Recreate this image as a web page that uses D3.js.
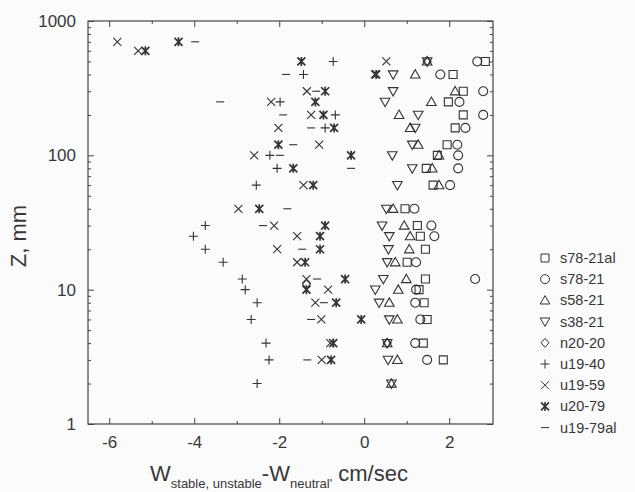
<!DOCTYPE html>
<html>
<head>
<meta charset="utf-8">
<script src="https://d3js.org/d3.v7.min.js"></script>
<style>
  body { margin: 0; background: #fbfbfb; }
  text { font-family: Arial, "Liberation Sans", sans-serif; fill: #383838; }
</style>
</head>
<body>
<div id="chart"></div>
<script>
// series names, in legend order
const seriesNames = ["s78-21al", "s78-21", "s58-21", "s38-21", "n20-20", "u19-40", "u19-59", "u20-79", "u19-79al"];

// [W difference cm/sec, Z mm]
const s78_21al = [[2.85,500],[2.09,400],[2.33,300],[1.98,250],[2.33,200],[2.14,160],[1.95,120],[1.72,100],[1.46,80],[1.62,60],[0.96,40],[1.25,30],[1.32,25],[1.44,20],[1.01,16],[1.44,12],[1.29,10],[1.41,8],[1.48,6],[1.39,4],[1.86,3]];
const s78_21 = [[2.66,500],[1.79,400],[2.8,300],[2.24,250],[2.8,200],[2.38,160],[2.19,120],[2.21,100],[2.21,80],[2.02,60],[1.18,40],[1.58,30],[1.65,25],[1.22,16],[2.61,12],[1.22,10],[1.2,8],[1.32,6],[1.2,4],[1.48,3]];
const s58_21 = [[1.48,500],[1.2,400],[2.14,300],[1.58,250],[0.82,200],[1.08,160],[1.27,120],[1.76,100],[1.6,80],[1.76,60],[0.68,40],[0.94,30],[1.08,25],[1.06,20],[0.73,16],[0.99,12],[0.8,10],[0.59,8],[0.78,6],[0.54,4],[0.78,3],[0.64,2]];
const s38_21 = [[1.48,500],[0.68,400],[0.68,300],[0.49,250],[1.27,200],[1.2,160],[1.13,120],[0.66,100],[1.13,80],[0.78,60],[0.52,40],[0.42,30],[0.59,25],[0.57,20],[0.54,16],[0.45,12],[0.26,10],[0.35,8],[0.59,6],[0.54,4],[0.56,3],[0.64,2]];
const n20_20 = [[1.48,500],[-1.36,11],[0.54,4]];
const u19_40 = [[-0.73,500],[-1.43,400],[-1.98,250],[-0.68,200],[-0.92,160],[-2.22,100],[-2.05,80],[-2.54,60],[-3.74,30],[-4.02,25],[-3.74,20],[-3.32,16],[-2.87,12],[-2.8,10],[-2.52,8],[-2.66,6],[-2.31,4],[-2.24,3],[-2.52,2]];
const u19_59 = [[-5.81,700],[-5.32,600],[0.52,500],[0.25,400],[-1.35,300],[-2.19,250],[-1.25,200],[-2.02,160],[-1.06,120],[-2.59,100],[-1.43,60],[-2.96,40],[-2.12,30],[-1.58,25],[-2.05,20],[-1.58,16],[-1.36,12],[-0.85,10],[-1.15,8],[-1.01,6],[-0.8,4],[-1.0,3]];
const u20_79 = [[-5.15,600],[-4.37,700],[-1.48,500],[0.28,400],[-0.92,300],[-1.15,250],[-0.96,200],[-0.71,160],[-2.02,120],[-0.31,100],[-1.67,80],[-1.2,60],[-2.47,40],[-0.92,30],[-1.04,25],[-1.04,20],[-1.39,16],[-0.45,12],[-1.36,10],[-0.66,8],[-0.07,6],[-0.73,4],[-0.78,3]];
const u19_79al = [[-3.98,700],[-1.84,400],[-1.13,300],[-3.39,250],[-1.91,200],[-1.25,160],[-1.67,120],[-1.98,100],[-0.31,80],[-1.81,40],[-2.38,30],[-1.46,20],[-1.11,12],[-0.95,8],[-1.25,6],[-1.34,3]];

const xTicks = [-6, -4, -2, 0, 2];
const xMinor = [-5, -3, -1, 1];
const yTicks = [1, 10, 100, 1000];

const shapes = ["square", "circle", "up", "down", "diamond", "plus", "cross", "star", "dash"];
const series = seriesNames.map((name, i) => ({
  name, shape: shapes[i],
  values: [s78_21al, s78_21, s58_21, s38_21, n20_20, u19_40, u19_59, u20_79, u19_79al][i]
}));

const W = 635, H = 492;
const plot = { left: 88, right: 493, top: 21, bottom: 424 };

const svg = d3.select("#chart").append("svg")
  .attr("width", W).attr("height", H);

const x = d3.scaleLinear().domain([-6.5, 3.03]).range([plot.left, plot.right]);
const y = d3.scaleLog().domain([1, 1000]).range([plot.bottom, plot.top]);

const axisColor = "#444";

// minor log ticks
const yMinor = [];
for (let d = 1; d < 1000; d *= 10) for (let k = 2; k <= 9; k++) yMinor.push(d * k);

function styleAxis(g) {
  g.select(".domain").remove();
  g.selectAll("line").attr("stroke", axisColor);
  g.selectAll("text").attr("fill", "#383838");
}

const plain = d => String(d);

// bottom axis
svg.append("g").attr("transform", `translate(0,${plot.bottom})`)
  .call(d3.axisBottom(x).tickValues(xTicks).tickSize(-6).tickPadding(12).tickFormat(plain))
  .call(styleAxis)
  .call(g => g.selectAll("text").style("font-size", "17px").style("font-family", "Arial"));
svg.append("g").attr("transform", `translate(0,${plot.bottom})`)
  .call(d3.axisBottom(x).tickValues(xMinor).tickSize(-3).tickFormat(""))
  .call(styleAxis);
// top axis
svg.append("g").attr("transform", `translate(0,${plot.top})`)
  .call(d3.axisTop(x).tickValues(xTicks).tickSize(-6).tickFormat(""))
  .call(styleAxis);
svg.append("g").attr("transform", `translate(0,${plot.top})`)
  .call(d3.axisTop(x).tickValues(xMinor).tickSize(-3).tickFormat(""))
  .call(styleAxis);
// left axis
svg.append("g").attr("transform", `translate(${plot.left},0)`)
  .call(d3.axisLeft(y).tickValues(yTicks).tickSize(-6).tickPadding(12).tickFormat(plain))
  .call(styleAxis)
  .call(g => g.selectAll("text").style("font-size", "17px").style("font-family", "Arial"));
svg.append("g").attr("transform", `translate(${plot.left},0)`)
  .call(d3.axisLeft(y).tickValues(yMinor).tickSize(-3).tickFormat(""))
  .call(styleAxis);
// right axis
svg.append("g").attr("transform", `translate(${plot.right},0)`)
  .call(d3.axisRight(y).tickValues(yTicks).tickSize(-6).tickFormat(""))
  .call(styleAxis);
svg.append("g").attr("transform", `translate(${plot.right},0)`)
  .call(d3.axisRight(y).tickValues(yMinor).tickSize(-3).tickFormat(""))
  .call(styleAxis);

// frame
svg.append("rect")
  .attr("x", plot.left).attr("y", plot.top)
  .attr("width", plot.right - plot.left).attr("height", plot.bottom - plot.top)
  .attr("fill", "none").attr("stroke", axisColor).attr("stroke-width", 1.2);

function markerPath(shape) {
  const p = d3.path();
  switch (shape) {
    case "square": p.rect(-4, -4, 8, 8); break;
    case "circle": p.arc(0, 0, 4.5, 0, 2 * Math.PI); break;
    case "up": p.moveTo(0, -4.8); p.lineTo(4.8, 3.6); p.lineTo(-4.8, 3.6); p.closePath(); break;
    case "down": p.moveTo(0, 4.8); p.lineTo(4.8, -3.6); p.lineTo(-4.8, -3.6); p.closePath(); break;
    case "diamond": p.moveTo(0, -4.5); p.lineTo(4, 0); p.lineTo(0, 4.5); p.lineTo(-4, 0); p.closePath(); break;
    case "plus": p.moveTo(-4.5, 0); p.lineTo(4.5, 0); p.moveTo(0, -4.5); p.lineTo(0, 4.5); break;
    case "cross": p.moveTo(-4, -4); p.lineTo(4, 4); p.moveTo(4, -4); p.lineTo(-4, 4); break;
    case "star": p.moveTo(-4, -4); p.lineTo(4, 4); p.moveTo(4, -4); p.lineTo(-4, 4);
      p.moveTo(0, -4.5); p.lineTo(0, 4.5); break;
    case "dash": p.moveTo(-4, 0); p.lineTo(4, 0); break;
  }
  return p.toString();
}

const markColor = "#333";

series.forEach(s => {
  svg.append("g").selectAll("path")
    .data(s.values)
    .enter()
    .append("path")
    .attr("transform", d => `translate(${x(d[0])},${y(d[1])})`)
    .attr("d", markerPath(s.shape))
    .attr("fill", "none")
    .attr("stroke", markColor)
    .attr("stroke-width", s.shape === "star" ? 1.7 : 1.1);
});

// legend
const legend = svg.append("g");
series.forEach((s, i) => {
  const ly = 258 + i * 21.2;
  legend.append("path")
    .attr("transform", `translate(545,${ly})`)
    .attr("d", markerPath(s.shape))
    .attr("fill", "none").attr("stroke", markColor)
    .attr("stroke-width", s.shape === "star" ? 1.6 : 1);
  legend.append("text")
    .attr("x", 560).attr("y", ly + 5)
    .style("font-size", "14.5px")
    .text(s.name);
});

// axis titles
svg.append("text")
  .attr("transform", "translate(26,236) rotate(-90)")
  .attr("text-anchor", "middle")
  .style("font-size", "22px")
  .text("Z, mm");

const xt = svg.append("text").attr("x", 150).attr("y", 481).style("font-size", "22px");
xt.append("tspan").text("W");
xt.append("tspan").attr("dy", 7).style("font-size", "13px").text("stable, unstable");
xt.append("tspan").attr("dy", -7).text("-W");
xt.append("tspan").attr("dy", 7).style("font-size", "13px").text("neutral'");
xt.append("tspan").attr("dy", -7).text(" cm/sec");
</script>
</body>
</html>
